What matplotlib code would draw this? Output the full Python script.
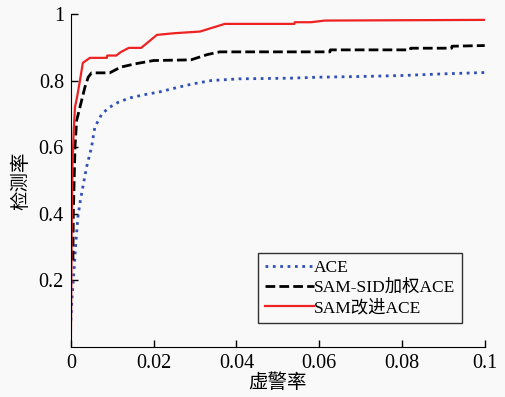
import numpy as np
import matplotlib.pyplot as plt

plt.rcParams['font.family'] = ['Liberation Serif', 'Noto Sans CJK SC']

# ACE (blue dotted)
x_ace = [0.0, 0.0003, 0.0007, 0.0012, 0.0017, 0.0023, 0.0029, 0.0038, 0.005, 0.0058, 0.0075,
         0.0094, 0.0115, 0.0143, 0.018, 0.0215, 0.026, 0.0295, 0.034, 0.0406, 0.053,
         0.06, 0.07, 0.08, 0.09, 0.1]
y_ace = [0.08, 0.15, 0.22, 0.31, 0.39, 0.44, 0.48, 0.54, 0.6, 0.66, 0.7,
         0.72, 0.735, 0.748, 0.758, 0.766, 0.78, 0.79, 0.8, 0.805, 0.807,
         0.81, 0.812, 0.815, 0.82, 0.824]

# SAM-SID加权ACE (black dashed)
x_sid = [0.0005, 0.0006, 0.0008, 0.001, 0.0014, 0.0022, 0.0034, 0.0042, 0.005, 0.0094,
         0.012, 0.0155, 0.02, 0.029, 0.031, 0.033, 0.036, 0.0626, 0.0627, 0.082,
         0.0821, 0.092, 0.0921, 0.1]
y_sid = [0.26, 0.4, 0.5, 0.6, 0.68, 0.72, 0.78, 0.81, 0.823, 0.823,
         0.84, 0.85, 0.86, 0.862, 0.87, 0.878, 0.886, 0.886, 0.892, 0.892,
         0.897, 0.897, 0.903, 0.905]

# SAM改进ACE (red solid)
x_imp = [0.0, 0.0002, 0.0004, 0.0007, 0.001, 0.0015, 0.0022, 0.0029, 0.0046, 0.0087,
         0.0088, 0.011, 0.012, 0.014, 0.017, 0.0208, 0.025, 0.0312, 0.0372, 0.054,
         0.0541, 0.058, 0.0614, 0.1]
y_imp = [0.0, 0.35, 0.55, 0.65, 0.72, 0.75, 0.8, 0.853, 0.868, 0.868,
         0.875, 0.875, 0.885, 0.898, 0.898, 0.937, 0.942, 0.947, 0.97, 0.97,
         0.975, 0.975, 0.98, 0.982]

xticks = [0, 0.02, 0.04, 0.06, 0.08, 0.1]
xtick_labels = ['0', '0.02', '0.04', '0.06', '0.08', '0.1']
yticks = [0.2, 0.4, 0.6, 0.8, 1.0]
ytick_labels = ['0.2', '0.4', '0.6', '0.8', '1']

fig = plt.figure(figsize=(5.06, 3.97), dpi=100, facecolor='#f9f9f9')
ax = fig.add_axes([0.140, 0.126, 0.818, 0.839])
ax.set_facecolor('#f9f9f9')

ax.plot(x_ace, y_ace, color='#3050b8', linestyle=':', linewidth=2.0, label='ACE')
ax.plot(x_sid, y_sid, color='black', linestyle=(0, (3.5, 1.5)), linewidth=2.0, label='SAM-SID加权ACE')
ax.plot(x_imp, y_imp, color='#ee2222', linestyle='-', linewidth=1.6, label='SAM改进ACE')

ax.set_xlim(0, 0.1)
ax.set_ylim(0, 1)
ax.set_xticks(xticks)
ax.set_xticklabels(xtick_labels)
ax.set_yticks(yticks)
ax.set_yticklabels(ytick_labels)
ax.tick_params(direction='in', length=5, labelsize=14.5, width=1, pad=5)
ax.spines['top'].set_visible(False)
ax.spines['right'].set_visible(False)
ax.set_xlabel('虚警率', fontsize=14, labelpad=0)
ax.set_ylabel('检测率', fontsize=14, labelpad=6)

leg = ax.legend(loc='lower right', bbox_to_anchor=(0.945, 0.072), fontsize=12.5,
                frameon=True, fancybox=False, edgecolor='black', handlelength=2.8,
                handletextpad=0.0, labelspacing=0.2, borderpad=0.4, borderaxespad=0)
leg.get_frame().set_linewidth(1.0)
leg.get_frame().set_facecolor('#f9f9f9')

fig.savefig('out.png', dpi=100, facecolor=fig.get_facecolor())
